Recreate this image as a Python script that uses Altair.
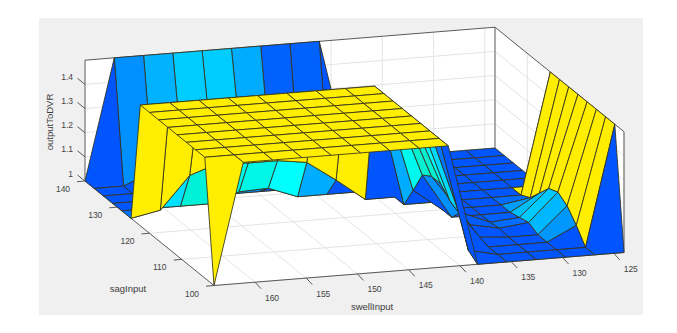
import altair as alt

# surface heights: rows run from sag 140 down to sag 100, columns from swell 164 down to swell 124
L = 1.0
H = 1.5
Z = [
    [L, H, H, H, H, H, H, H, H, L, L, L, L, L, L],
    [L, L, 1.05, 1.1, 1.14, 1.14, 1.09, 1.01, 1.01, L, L, L, L, L, L],
    [L, L, L, L, L, L, L, L, L, L, L, L, L, L, L],
    [L, L, L, L, L, L, L, L, L, L, L, L, L, L, L],
    [L, L, L, L, 1.04, 1.045, L, L, L, L, L, L, L, L, L],
    [L, 1.024, 1.158, 1.2, 1.19, 1.19, 1.173, 1.09, L, L, L, L, L, L, L],
    [H, H, H, H, H, H, H, H, H, L, L, L, L, L, H],
    [H, H, H, H, H, H, H, H, H, 1.09, L, L, L, 1.02, H],
    [H, H, H, H, H, H, H, H, H, 1.184, L, L, L, 1.07, H],
    [H, H, H, H, H, H, H, H, H, 1.21, 1.05, L, 1.01, 1.12, H],
    [H, H, H, H, H, H, H, H, H, 1.21, 1.03, 1.006, 1.02, 1.136, H],
    [H, H, H, H, H, H, H, H, H, 1.17, 1.01, L, L, 1.11, H],
    [H, H, H, H, H, H, H, H, H, 1.15, L, L, L, 1.06, H],
    [H, H, H, H, H, H, H, H, H, 1.027, L, L, L, L, H],
    [L, H, H, H, H, H, H, H, H, L, L, L, L, L, L],
]
swell_ticks = [160, 155, 150, 145, 140, 135, 130, 125]
sag_ticks = [140, 130, 120, 110, 100]
z_ticks = [1.0, 1.1, 1.2, 1.3, 1.4]
z_labels = ["1", "1.1", "1.2", "1.3", "1.4"]
stops = [(1.0, (0, 85, 255)), (1.05, (0, 144, 255)), (1.09, (0, 172, 255)),
         (1.12, (0, 190, 255)), (1.14, (0, 205, 255)), (1.158, (0, 224, 255)),
         (1.173, (0, 255, 255)), (1.2, (0, 240, 216)), (1.5, (255, 238, 0))]

SW0, SW1 = 164.0, 124.0
SA0, SA1 = 140.0, 100.0
Z0, Z1 = 1.0, 1.5
N = 14


def proj(swell, sag, z):
    u = (SW0 - swell) / (SW0 - SW1)
    v = (SA0 - sag) / (SA0 - SA1)
    w = (z - Z0) / (Z1 - Z0)
    return [77 + 410 * u + 129 * v, 173 - 33 * u + 104.5 * v - 120.8 * w]


def colour(z):
    for (a, ca), (b, cb) in zip(stops, stops[1:]):
        if z <= b:
            t = (z - a) / (b - a)
            c = [round(p + (q - p) * t) for p, q in zip(ca, cb)]
            return "#%02x%02x%02x" % tuple(c)
    return "#ffee00"


def poly(pts, fill, stroke="none", sw=0):
    return {"type": "Feature",
            "geometry": {"type": "Polygon", "coordinates": [pts + [pts[0]]]},
            "properties": {"fill": fill, "stroke": stroke, "sw": sw}}


def line(a, b, stroke, sw):
    return {"type": "Feature",
            "geometry": {"type": "LineString", "coordinates": [a, b]},
            "properties": {"fill": "none", "stroke": stroke, "sw": sw}}


sw_at = lambda i: SW0 - (SW0 - SW1) * i / N
sa_at = lambda j: SA0 - (SA0 - SA1) * j / N

features = []
# figure panel
features.append(poly([[31, 10], [635, 10], [635, 307], [31, 307]], "#f0f0f0"))
# box walls and floor
A = (SW0, SA0)
B = (SW0, SA1)
C = (SW1, SA1)
D = (SW1, SA0)
features.append(poly([proj(*A, Z0), proj(*B, Z0), proj(*C, Z0), proj(*D, Z0)], "#ffffff"))
features.append(poly([proj(*A, Z0), proj(*A, Z1), proj(*D, Z1), proj(*D, Z0)], "#ffffff"))
features.append(poly([proj(*D, Z0), proj(*D, Z1), proj(*C, Z1), proj(*C, Z0)], "#ffffff"))
# grid
GRID = "#e4e4e4"
for s in swell_ticks:
    features.append(line(proj(s, SA0, Z0), proj(s, SA1, Z0), GRID, 1))
    features.append(line(proj(s, SA0, Z0), proj(s, SA0, Z1), GRID, 1))
for a in sag_ticks:
    features.append(line(proj(SW0, a, Z0), proj(SW1, a, Z0), GRID, 1))
    features.append(line(proj(SW1, a, Z0), proj(SW1, a, Z1), GRID, 1))
for z in z_ticks:
    features.append(line(proj(SW0, SA0, z), proj(SW1, SA0, z), GRID, 1))
    features.append(line(proj(SW1, SA0, z), proj(SW1, SA1, z), GRID, 1))
# box edges
EDGE = "#5a5a5a"
features.append(line(proj(*D, Z0), proj(*D, Z1), "#8c8c8c", 1.4))
features.append(line(proj(*A, Z1), proj(*D, Z1), EDGE, 1))
features.append(line(proj(*D, Z1), proj(*C, Z1), EDGE, 1))
features.append(line(proj(*C, Z1), proj(*C, Z0), EDGE, 1))
features.append(line(proj(*A, Z0), proj(*A, Z1), EDGE, 1))
features.append(line(proj(*A, Z0), proj(*B, Z0), EDGE, 1))
features.append(line(proj(*B, Z0), proj(*C, Z0), EDGE, 1))
# ticks
for s in swell_ticks:
    a = proj(s, SA1, Z0)
    features.append(line(a, [a[0] + 6, a[1] + 6.5], EDGE, 1))
for g in sag_ticks:
    a = proj(SW0, g, Z0)
    features.append(line(a, [a[0] - 8, a[1] + 0.7], EDGE, 1))
for z in z_ticks:
    a = proj(SW0, SA0, z)
    features.append(line(a, [a[0] - 7.5, a[1] - 6], EDGE, 1))

# surface, far cells first (sag falling towards the viewer, swell falling towards the viewer)
for j in range(N):
    for i in range(N - 1, -1, -1):
        c = colour(Z[j + 1][i + 1])
        pts = [proj(sw_at(i), sa_at(j), Z[j][i]),
               proj(sw_at(i + 1), sa_at(j), Z[j][i + 1]),
               proj(sw_at(i + 1), sa_at(j + 1), Z[j + 1][i + 1]),
               proj(sw_at(i), sa_at(j + 1), Z[j + 1][i])]
        features.append(poly(pts, c, "#33301c", 0.85))

identity = dict(type="identity", scale=1, translate=[0, 0])

shapes = alt.Chart(alt.Data(values=features)).mark_geoshape(strokeJoin="round").encode(
    fill=alt.Fill("properties.fill:N", scale=None),
    stroke=alt.Stroke("properties.stroke:N", scale=None),
    strokeWidth=alt.StrokeWidth("properties.sw:Q", scale=None),
).project(**identity)

tick_rows = []
for s in swell_ticks:
    p = proj(s, SA1, Z0)
    tick_rows.append({"lon": p[0] + 17, "lat": p[1] + 15.5, "t": str(s)})
for g in sag_ticks:
    p = proj(SW0, g, Z0)
    tick_rows.append({"lon": p[0] - 22, "lat": p[1] + 8, "t": str(g)})
center_ticks = alt.Chart(alt.Data(values=tick_rows)).mark_text(
    font="Liberation Sans", fontSize=8.5, color="#444444", align="center", baseline="middle"
).encode(longitude="lon:Q", latitude="lat:Q", text="t:N").project(**identity)

z_rows = []
for z, t in zip(z_ticks, z_labels):
    p = proj(SW0, SA0, z)
    z_rows.append({"lon": p[0] - 12, "lat": p[1] - 7.5, "t": t})
right_ticks = alt.Chart(alt.Data(values=z_rows)).mark_text(
    font="Liberation Sans", fontSize=8.5, color="#444444", align="right", baseline="middle"
).encode(longitude="lon:Q", latitude="lat:Q", text="t:N").project(**identity)

title_rows = [{"lon": 120, "lat": 281, "t": "sagInput"}, {"lon": 364, "lat": 298.5, "t": "swellInput"}]
titles = alt.Chart(alt.Data(values=title_rows)).mark_text(
    font="Liberation Sans", fontSize=9.5, color="#3c3c3c", align="center", baseline="middle"
).encode(longitude="lon:Q", latitude="lat:Q", text="t:N").project(**identity)

ztitle = alt.Chart(alt.Data(values=[{"lon": 42, "lat": 114, "t": "outputToDVR"}])).mark_text(
    font="Liberation Sans", fontSize=9.5, color="#3c3c3c", align="center", baseline="middle", angle=270
).encode(longitude="lon:Q", latitude="lat:Q", text="t:N").project(**identity)

chart = alt.layer(shapes, center_ticks, right_ticks, titles, ztitle).properties(
    width=661, height=317, padding=0, autosize="none", background="#ffffff"
).configure_view(stroke=None)

chart.save("out.html", embed_options={"renderer": "svg", "actions": False})
